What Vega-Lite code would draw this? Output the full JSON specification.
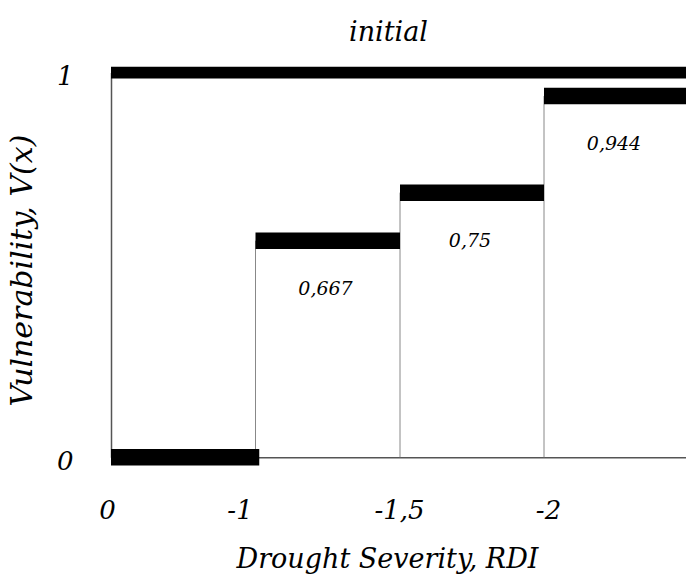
{
  "$schema": "https://vega.github.io/schema/vega-lite/v6.json",
  "autosize": {"type": "none"},
  "width": 575,
  "height": 384.7,
  "padding": {"left": 111, "top": 72.6, "right": 0, "bottom": 122.7},
  "background": "white",
  "title": {
    "text": "initial",
    "font": "DejaVu Serif",
    "fontStyle": "italic",
    "fontWeight": "normal",
    "fontSize": 27,
    "color": "black",
    "anchor": "middle",
    "dx": -10,
    "offset": 17
  },
  "data": {
    "values": [
      {"kind": "step", "x0": 0, "x1": -1.013, "v": 0, "label": ""},
      {"kind": "step", "x0": -1, "x1": -1.5, "v": 0.563, "label": "0,667"},
      {"kind": "step", "x0": -1.5, "x1": -2, "v": 0.688, "label": "0,75"},
      {"kind": "step", "x0": -2, "x1": -2.5, "v": 0.939, "label": "0,944"},
      {"kind": "max", "x0": 0, "x1": -2.5, "v": 1, "label": ""}
    ]
  },
  "encoding": {
    "x": {
      "field": "x0",
      "type": "quantitative",
      "scale": {"domain": [0, -1, -1.5, -2, -2.5], "range": [0, 144.5, 289, 433, 575], "nice": false, "zero": false},
      "axis": {
        "values": [0, -1, -1.5, -2],
        "labelExpr": "datum.value == 0 ? '0' : datum.value == -1 ? '-1' : datum.value == -1.5 ? '-1,5' : '-2'",
        "labelOffset": {"condition": [{"test": "datum.value == 0", "value": -4}, {"test": "datum.value == -1", "value": -16}, {"test": "datum.value == -2", "value": 4}], "value": -1},
        "labelFlush": false,
        "labelOverlap": false,
        "labelBaseline": "top",
        "labelPadding": 40,
        "labelFont": "DejaVu Serif",
        "labelFontStyle": "italic",
        "labelFontSize": 26,
        "labelColor": "black",
        "ticks": false,
        "grid": false,
        "domainColor": "#555",
        "domainWidth": 1.5,
        "title": "Drought Severity, RDI",
        "titleFont": "DejaVu Serif",
        "titleFontStyle": "italic",
        "titleFontWeight": "normal",
        "titleFontSize": 27,
        "titleColor": "black",
        "titleX": 276,
        "titleY": 110,
        "titleAlign": "center",
        "titleBaseline": "alphabetic"
      }
    },
    "y": {
      "field": "v",
      "type": "quantitative",
      "scale": {"domain": [0, 1], "nice": false, "zero": false},
      "axis": {
        "values": [0, 1],
        "labelExpr": "datum.value == 1 ? '1' : '0'",
        "labelOffset": 4,
        "labelPadding": 38,
        "labelFont": "DejaVu Serif",
        "labelFontStyle": "italic",
        "labelFontSize": 26,
        "labelColor": "black",
        "labelFlush": false,
        "labelOverlap": false,
        "ticks": false,
        "grid": false,
        "domainColor": "#555",
        "domainWidth": 1.5,
        "title": "Vulnerability, V(x)",
        "titleFont": "DejaVu Serif",
        "titleFontStyle": "italic",
        "titleFontWeight": "normal",
        "titleFontSize": 30,
        "titleColor": "black",
        "titleAngle": -90,
        "titleX": -80,
        "titleY": 197.5,
        "titleAlign": "center",
        "titleBaseline": "alphabetic"
      }
    }
  },
  "layer": [
    {
      "transform": [{"filter": "datum.kind == 'step' && datum.x0 != 0"}],
      "mark": {"type": "rule", "color": "#888", "strokeWidth": 1},
      "encoding": {"y2": {"datum": 0}}
    },
    {
      "transform": [{"filter": "datum.kind == 'step'"}],
      "mark": {"type": "rule", "color": "black", "strokeWidth": 16.5, "strokeCap": "butt"},
      "encoding": {"x2": {"field": "x1"}}
    },
    {
      "transform": [{"filter": "datum.kind == 'max'"}],
      "mark": {"type": "rule", "color": "black", "strokeWidth": 11.7, "strokeCap": "butt"},
      "encoding": {"x2": {"field": "x1"}}
    },
    {
      "transform": [{"filter": "datum.kind == 'step' && datum.label != ''"}],
      "mark": {"type": "text", "font": "DejaVu Serif", "fontStyle": "italic", "fontSize": 19, "color": "black", "align": "center", "baseline": "middle", "dx": 70, "dy": 48},
      "encoding": {"text": {"field": "label"}}
    }
  ],
  "config": {"view": {"stroke": null}}
}
